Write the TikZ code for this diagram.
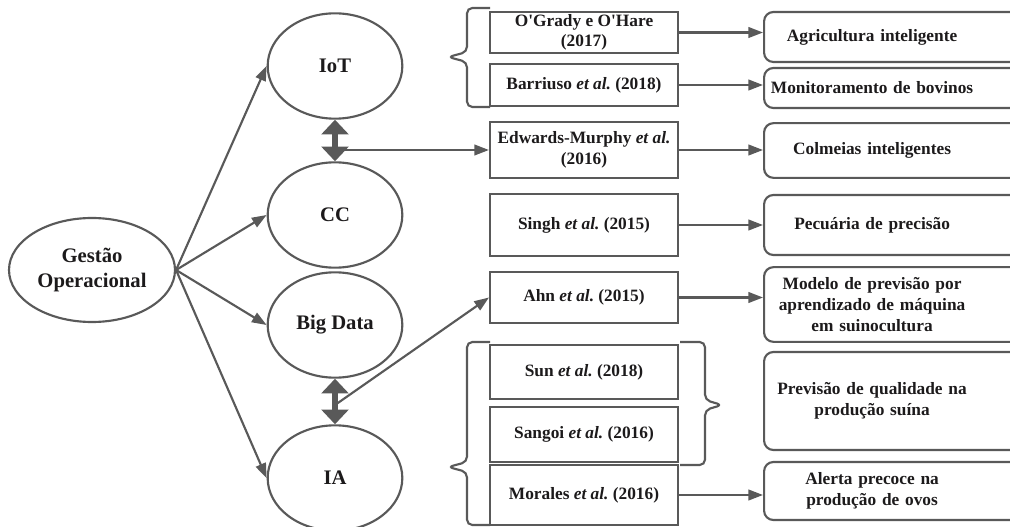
\documentclass[tikz,border=0pt]{standalone}
\usepackage{fontspec}
\setmainfont{Liberation Serif}
\usepackage{xcolor}
\usetikzlibrary{shapes.geometric,arrows.meta}

\definecolor{linegray}{RGB}{89,89,89}
\definecolor{textdark}{RGB}{28,26,27}
\newcommand{\topictext}[1]{\noindent\parbox{162pt}{\centering #1}}
\frenchspacing

\begin{document}
\begin{tikzpicture}[x=0.75pt, y=-0.75pt, line width=1.6pt, text=textdark,
  font=\fontsize{13}{15.5}\selectfont\bfseries,
  oval/.style={ellipse, draw=linegray, minimum width=101pt, minimum height=79pt, align=center, inner sep=0pt,
    font=\fontsize{15.5}{19.5}\selectfont\bfseries},
  refbox/.style={rectangle, draw=linegray, minimum width=141pt, align=center, inner xsep=2pt, inner ysep=1pt},
  topic/.style={rectangle, draw=linegray, rounded corners=7pt, anchor=west, text width=240pt, align=left, inner xsep=0pt, inner ysep=1pt},
  arr/.style={draw=linegray, -{Triangle[length=11pt,width=8pt]}},
  link/.style={draw=linegray, line width=3.8pt, {Triangle[length=11pt,width=20pt]}-{Triangle[length=11pt,width=20pt]}},
  brace/.style={draw=linegray, rounded corners=4pt}]
  \clip (0,0) rectangle (1010,527);
  % Central node and the four technologies
  \node[oval, minimum width=124.5pt, minimum height=78pt] (gest) at (92,270) {Gestão\\Operacional};
  \node[oval] (iot) at (335,66) {IoT};
  \node[oval] (cc) at (335,215) {CC};
  \node[oval] (bd) at (335,325) {Big Data};
  \node[oval] (ia) at (335,478) {IA};
  \foreach \t in {iot,cc,bd,ia}
    \draw[arr] (gest.east) -- (\t.west);
  % Links between technologies
  \draw[link] (iot) -- (cc);
  \draw[link] (bd) -- (ia);
  \coordinate (j1) at (335,150);
  \coordinate (j2) at (335,405);
  % Cited works
  \node[refbox, minimum height=30.75pt] (og) at (584,32.5) {O\textquotesingle Grady e O\textquotesingle Hare\\(2017)};
  \node[refbox, minimum height=31.5pt] (ba) at (584,85) {Barriuso \textit{et al.} (2018)};
  \node[refbox, minimum height=42pt] (ed) at (584,150) {Edwards-Murphy \textit{et al.}\\(2016)};
  \node[refbox, minimum height=46.5pt] (si) at (584,225) {Singh \textit{et al.} (2015)};
  \node[refbox, minimum height=38.25pt] (ah) at (584,297.5) {Ahn \textit{et al.} (2015)};
  \node[refbox, minimum height=40.5pt] (su) at (584,372) {Sun \textit{et al.} (2018)};
  \node[refbox, minimum height=41.25pt] (sa) at (584,434.5) {Sangoi \textit{et al.} (2016)};
  \node[refbox, minimum height=45pt] (mo) at (584,495) {Morales \textit{et al.} (2016)};
  % Applications
  \node[topic, minimum height=37.5pt] (ag) at (763,37) {\topictext{Agricultura inteligente}};
  \node[topic, minimum height=30pt] (mon) at (763,88) {\topictext{Monitoramento de bovinos}};
  \node[topic, minimum height=41pt] (col) at (763,150.5) {\topictext{Colmeias inteligentes}};
  \node[topic, minimum height=45pt] (pec) at (763,225) {\topictext{Pecuária de precisão}};
  \node[topic, minimum height=56pt] (mod) at (763,304.5) {\topictext{Modelo de previsão por\\aprendizado de máquina\\em suinocultura}};
  \node[topic, minimum height=73.5pt] (prev) at (763,401) {\topictext{Previsão de qualidade na\\produção suína}};
  \node[topic, minimum height=43.5pt] (al) at (763,491) {\topictext{Alerta precoce na\\produção de ovos}};
  % Connectors
  \draw[arr] (j1) -- (ed.west);
  \draw[arr] (j2) -- (ah.west);
  \draw[arr] (og.east) -- (og.east -| ag.west);
  \draw[arr] (ba.east) -- (ba.east -| mon.west);
  \draw[arr] (ed.east) -- (ed.east -| col.west);
  \draw[arr] (si.east) -- (si.east -| pec.west);
  \draw[arr] (ah.east) -- (ah.east -| mod.west);
  \draw[arr] (mo.east) -- (mo.east -| al.west);
  % Braces
  \draw[brace] (490,8) -- (467,8) -- (467,52) -- (448,57) -- (467,62) -- (467,107) -- (490,107);
  \draw[brace] (490,342) -- (467,342) -- (467,462) -- (448,467) -- (467,472) -- (467,525) -- (490,525);
  \draw[brace] (680,342) -- (705,342) -- (705,400) -- (722,405) -- (705,410) -- (705,465) -- (680,465);
\end{tikzpicture}
\end{document}
